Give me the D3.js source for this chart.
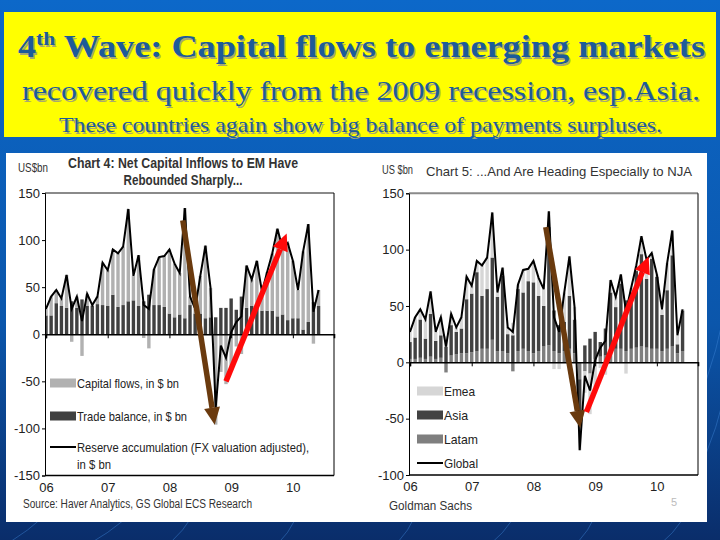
<!DOCTYPE html>
<html><head><meta charset="utf-8">
<script src="https://cdn.jsdelivr.net/npm/d3@7/dist/d3.min.js"></script>
<style>
html,body{margin:0;padding:0;background:#0b4f9e;}
svg{display:block;}
</style></head>
<body>
<svg id="c" width="720" height="540"></svg>
<script>
// ---------- DATA ----------
const titleLines = ["Wave: Capital flows to emerging markets",
  "recovered quickly from the 2009 recession, esp.Asia.",
  "These countries again show big balance of payments surpluses."];
const yearLabels = ["06","07","08","09","10"];
const yearMonthIndex = [0,12,24,36,48];
// monthly categories Jan 2006 .. Jun 2010
const months = d3.range(54).map(i => (2006 + Math.floor(i/12)) + "-" + String(i%12+1).padStart(2,"0"));

// Global / reserve accumulation (same line in both charts), US$bn
const reserves = [27,40,47,38,63,27,40,14,43,31,40,76,
                  68,90,86,93,133,62,84,31,27,69,82,83,
                  90,75,65,134,40,27,62,94,49,-78,-12,-25,
                  2,13,19,73,58,78,45,66,86,112,91,97,
                  78,47,88,117,24,47];
// Chart 4
const tradeBalance = [20,20,33,30,28,35,28,37,30,30,32,31,
                      30,42,29,31,35,36,30,35,42,31,31,29,
                      22,18,21,17,31,22,22,17,18,18,28,28,
                      38,26,40,28,30,30,25,25,25,19,21,15,
                      17,17,5,13,34,30];
const capitalFlows = [7,20,14,8,35,-8,12,-23,13,1,8,45,
                      38,48,57,62,98,26,54,-4,-15,38,51,54,
                      68,57,44,117,9,5,40,77,31,-96,-40,-53,
                      -36,-13,-21,45,28,48,20,41,61,93,70,82,
                      61,30,83,104,-10,17];
// Chart 5
const latam = [3,3,4,3,5,3,4,-9,6,7,8,8,
               9,10,12,12,20,10,10,8,-8,10,12,10,
               8,10,14,15,10,8,10,12,8,-15,-8,-10,
               3,5,6,10,12,12,10,12,13,14,13,12,
               12,10,12,14,8,10];
const asia = [15,19,34,18,38,16,20,14,27,20,22,48,
              52,70,47,53,73,48,67,17,24,55,50,62,
              63,49,36,105,36,25,26,47,30,-30,15,21,
              24,13,24,52,37,58,45,50,68,82,61,80,
              64,32,52,81,8,36];
const emea = [9,18,9,17,20,8,16,9,10,4,10,20,
              7,10,27,28,40,4,7,6,11,4,20,11,
              19,16,15,14,-6,-6,26,35,11,-33,-19,-36,
              -25,-5,-11,11,9,8,-10,4,5,16,17,5,
              2,5,24,22,8,1];
// Annotation arrows, in data units [monthIndex, value]
const arrowsLeft = [
  {color:"#6a3a0e", from:[26.6,121], to:[32.8,-96]},
  {color:"#ff0a0a", from:[35.0,-50], to:[46.8,107]}];
const arrowsRight = [
  {color:"#6a3a0e", from:[26.4,120], to:[33.1,-58]},
  {color:"#ff0a0a", from:[34.3,-44], to:[46.4,94]}];

const svg = d3.select("#c");
const defs = svg.append("defs");

// ---------- background ----------
const bg = defs.append("linearGradient").attr("id","bg").attr("x1",0).attr("y1",0).attr("x2",0).attr("y2",1);
bg.append("stop").attr("offset","0%").attr("stop-color","#0c68c9");
bg.append("stop").attr("offset","60%").attr("stop-color","#0b56ab");
bg.append("stop").attr("offset","100%").attr("stop-color","#0a2d6a");
svg.append("rect").attr("width",720).attr("height",540).attr("fill","url(#bg)");
const curves = [[-20,560,60,500],[60,560,140,505],[150,560,200,500],[260,560,300,505],[380,560,420,500],[470,560,520,505],[560,560,600,500],[640,560,690,505],[700,470,740,300],[700,400,740,200]];
svg.append("g").selectAll("path").data(curves).join("path")
  .attr("d",d=>`M${d[0]},${d[1]} Q${(d[0]+d[2])/2+15},${(d[1]+d[3])/2} ${d[2]},${d[3]}`)
  .attr("fill","none").attr("stroke","#3d86d6").attr("stroke-opacity",0.45).attr("stroke-width",1);

// ---------- title box ----------
svg.append("rect").attr("x",4).attr("y",12).attr("width",712).attr("height",125).attr("fill","#ffff00");
const serif = "'Liberation Serif','Times New Roman',serif";
function titleText(dx, dy, color){
  const g = svg.append("g").attr("transform",`translate(${dx},${dy})`).attr("fill",color).style("font-family",serif);
  const t1 = g.append("text").attr("x",18).attr("y",57).attr("font-size",32).attr("font-weight","bold")
     .attr("textLength",687).attr("lengthAdjust","spacingAndGlyphs");
  t1.append("tspan").text("4");
  t1.append("tspan").attr("font-size",19).attr("dy",-12).text("th");
  t1.append("tspan").attr("dy",12).text(" " + titleLines[0]);
  g.append("text").attr("x",22).attr("y",100).attr("font-size",28)
     .attr("textLength",678).attr("lengthAdjust","spacingAndGlyphs").text(titleLines[1]);
  g.append("text").attr("x",59).attr("y",132).attr("font-size",22)
     .attr("textLength",603).attr("lengthAdjust","spacingAndGlyphs").text(titleLines[2]);
}
titleText(1.5,1.5,"#a8a870");
titleText(0,0,"#1d5b99");

// ---------- white panel ----------
svg.append("rect").attr("x",6).attr("y",153).attr("width",701).attr("height",369).attr("fill","#ffffff");

const sans = "'Liberation Sans Narrow','Arial Narrow','Liberation Sans',Arial,sans-serif";
const fmt = d => String(d);

function drawChart(cfg){
  const g = svg.append("g").style("font-family",sans);
  const x = d3.scaleLinear().domain([0,56]).range([cfg.x0+1, cfg.x1]);
  const y = d3.scaleLinear().domain(cfg.yDomain).range([cfg.yb, cfg.yt]);
  const cid = "clip"+cfg.id;
  defs.append("clipPath").attr("id",cid).append("rect")
    .attr("x",cfg.x0).attr("y",cfg.yt).attr("width",cfg.x1-cfg.x0).attr("height",cfg.yb-cfg.yt);

  // bars
  const rows = months.map((m,i)=>{const o={i}; cfg.series.forEach(s=>o[s.key]=s.values[i]); return o;});
  const stack = d3.stack().keys(cfg.series.map(s=>s.key)).offset(d3.stackOffsetDiverging)(rows);
  const bw = 3.4;
  const pg = g.append("g").attr("clip-path",`url(#${cid})`);
  pg.selectAll("g.s").data(stack).join("g").attr("fill",(d,k)=>cfg.series[k].color)
    .selectAll("rect").data(d=>d).join("rect")
    .attr("x",d=>x(d.data.i)-bw/2).attr("width",bw)
    .attr("y",d=>y(Math.max(d[0],d[1]))).attr("height",d=>Math.abs(y(d[0])-y(d[1])));

  // zero axis with ticks
  g.append("g").attr("transform",`translate(0,${y(0)})`)
    .call(d3.axisBottom(x).tickValues(yearMonthIndex).tickSize(4).tickFormat(""))
    .call(a=>{a.select(".domain").attr("stroke","#000").attr("stroke-width",1.6);a.selectAll("line").attr("stroke","#000");});

  // line
  pg.append("path").datum(cfg.line)
    .attr("d",d3.line().x((d,i)=>x(i)).y(d=>y(d)))
    .attr("fill","none").attr("stroke","#000").attr("stroke-width",2);

  // frame
  g.append("line").attr("x1",cfg.x0).attr("x2",cfg.x1).attr("y1",cfg.yt).attr("y2",cfg.yt).attr("stroke","#8a8a8a").attr("stroke-width",2);
  g.append("line").attr("x1",cfg.x1).attr("x2",cfg.x1).attr("y1",cfg.yt).attr("y2",cfg.yb).attr("stroke","#000").attr("stroke-width",1);
  g.append("line").attr("x1",cfg.x0).attr("x2",cfg.x1).attr("y1",cfg.yb).attr("y2",cfg.yb).attr("stroke","#000").attr("stroke-width",1.5);

  // y axis
  g.append("g").attr("transform",`translate(${cfg.x0},0)`)
    .call(d3.axisLeft(y).tickValues(cfg.yTicks).tickSize(3).tickPadding(2).tickFormat(fmt))
    .call(a=>{a.select(".domain").attr("stroke","#000");a.selectAll("line").attr("stroke","#000");
      a.selectAll("text").attr("fill","#222").style("font-family",sans).attr("font-size",13);});
  // x labels
  g.append("g").attr("transform",`translate(0,${cfg.yb})`)
    .call(d3.axisBottom(x).tickValues(yearMonthIndex).tickSize(0).tickPadding(7).tickFormat((d,k)=>yearLabels[k]))
    .call(a=>{a.select(".domain").remove();
      a.selectAll("text").attr("fill","#222").style("font-family",sans).attr("font-size",13);});

  // arrows
  cfg.arrows.forEach(ar=>{
    const x1=x(ar.from[0]), y1=y(ar.from[1]), x2=x(ar.to[0]), y2=y(ar.to[1]);
    const ang=Math.atan2(y2-y1,x2-x1), hl=17, hw=8;
    const bx=x2-hl*Math.cos(ang), by=y2-hl*Math.sin(ang);
    g.append("line").attr("x1",x1).attr("y1",y1).attr("x2",bx).attr("y2",by)
      .attr("stroke",ar.color).attr("stroke-width",5.5);
    const px=-Math.sin(ang), py=Math.cos(ang);
    g.append("path").attr("d",`M${x2},${y2}L${bx+px*hw},${by+py*hw}L${bx-px*hw},${by-py*hw}Z`).attr("fill",ar.color);
  });

  // legend
  const lg = g.append("g");
  cfg.legend.forEach(l=>{
    if(l.type==="rect") lg.append("rect").attr("x",cfg.lx).attr("y",l.y-4.5).attr("width",26).attr("height",9).attr("fill",l.color);
    else lg.append("line").attr("x1",cfg.lx).attr("x2",cfg.lx+26).attr("y1",l.y).attr("y2",l.y).attr("stroke","#000").attr("stroke-width",2);
    l.text.forEach((t,k)=>lg.append("text").attr("x",cfg.lx+27).attr("y",l.y+5+k*17).attr("font-size",13.5).attr("fill","#222")
      .attr("textLength",t.w).attr("lengthAdjust","spacingAndGlyphs").text(t.s));
  });
  return {x,y};
}

drawChart({id:"L", x0:45, x1:334, yt:193, yb:475.5, yDomain:[-150,150], yTicks:[-150,-100,-50,0,50,100,150],
  series:[{key:"trade",values:tradeBalance,color:"#404040"},{key:"cap",values:capitalFlows,color:"#b1b1b1"}],
  line:reserves, arrows:arrowsLeft, lx:50,
  legend:[{type:"rect",color:"#b1b1b1",y:383,text:[{s:"Capital flows, in $ bn",w:102}]},
          {type:"rect",color:"#404040",y:416,text:[{s:"Trade balance, in $ bn",w:110}]},
          {type:"line",y:447,text:[{s:"Reserve accumulation (FX valuation adjusted),",w:232},{s:"in $ bn",w:34}]}]});

drawChart({id:"R", x0:409, x1:698, yt:193.3, yb:475, yDomain:[-100,150], yTicks:[-100,-50,0,50,100,150],
  series:[{key:"latam",values:latam,color:"#7f7f7f"},{key:"asia",values:asia,color:"#424242"},{key:"emea",values:emea,color:"#d6d6d6"}],
  line:reserves, arrows:arrowsRight, lx:417,
  legend:[{type:"rect",color:"#d6d6d6",y:391,text:[{s:"Emea",w:31}]},
          {type:"rect",color:"#424242",y:415,text:[{s:"Asia",w:24}]},
          {type:"rect",color:"#7f7f7f",y:439,text:[{s:"Latam",w:34}]},
          {type:"line",y:463,text:[{s:"Global",w:34}]}]});

// chart titles and units
const tg = svg.append("g").style("font-family",sans).attr("fill","#333");
tg.append("text").attr("x",18).attr("y",172).attr("font-size",12).attr("textLength",30).attr("lengthAdjust","spacingAndGlyphs").text("US$bn");
tg.append("text").attr("x",183).attr("y",168).attr("text-anchor","middle").attr("font-size",14).attr("font-weight","bold")
  .attr("textLength",230).attr("lengthAdjust","spacingAndGlyphs").text("Chart 4: Net Capital Inflows to EM Have");
tg.append("text").attr("x",183).attr("y",185).attr("text-anchor","middle").attr("font-size",14).attr("font-weight","bold")
  .attr("textLength",119).attr("lengthAdjust","spacingAndGlyphs").text("Rebounded Sharply...");
tg.append("text").attr("x",382).attr("y",174).attr("font-size",12).attr("textLength",31).attr("lengthAdjust","spacingAndGlyphs").text("US $bn");
tg.append("text").attr("x",426).attr("y",176).attr("font-size",13.5)
  .attr("textLength",266).attr("lengthAdjust","spacingAndGlyphs").text("Chart 5: ...And Are Heading Especially to NJA");
tg.append("text").attr("x",23).attr("y",508).attr("font-size",12).attr("textLength",229).attr("lengthAdjust","spacingAndGlyphs")
  .text("Source: Haver Analytics, GS Global ECS Research");
tg.append("text").attr("x",389).attr("y",510).attr("font-size",12).attr("textLength",83).attr("lengthAdjust","spacingAndGlyphs").text("Goldman Sachs");
tg.append("text").attr("x",671).attr("y",506).attr("font-size",11).attr("fill","#bbb").text("5");
</script>
</body></html>
